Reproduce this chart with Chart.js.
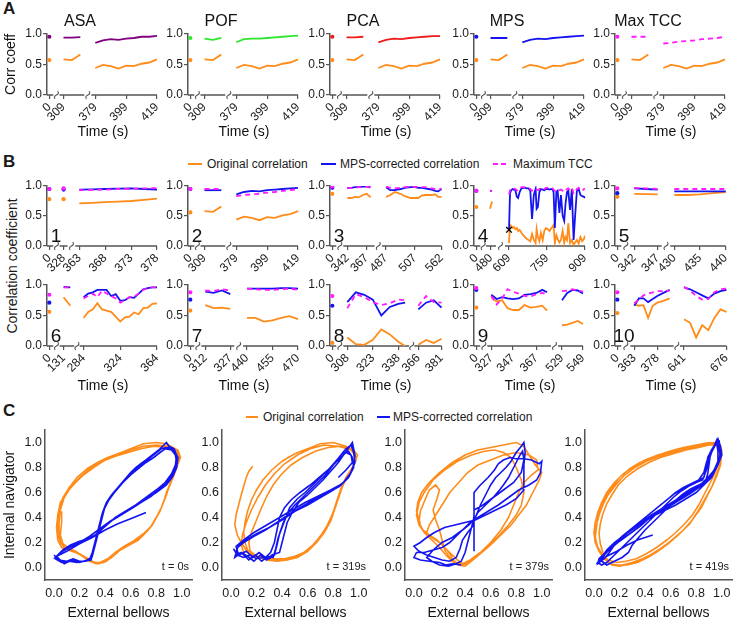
<!DOCTYPE html>
<html>
<head>
<meta charset="utf-8">
<script src="https://cdn.jsdelivr.net/npm/chart.js@4.4.1/dist/chart.umd.min.js"></script>
<style>
  html, body { margin: 0; padding: 0; background: #fff; }
  #fig { position: relative; width: 735px; height: 623px; overflow: hidden;
         font-family: "Liberation Sans", Arial, sans-serif; color: #1a1a1a; }
  #fig canvas { position: absolute; }
  .lbl { position: absolute; white-space: nowrap; font-size: 12px; line-height: 14px; }
  .letter { position: absolute; font-weight: bold; font-size: 17px; line-height: 18px; }
  .key { position: absolute; height: 2px; }
</style>
</head>
<body>
<div id="fig">
  <div class="letter" style="left:3px;top:0px">A</div>
  <div class="letter" style="left:3px;top:153px">B</div>
  <div class="letter" style="left:3px;top:402px">C</div>

  <!-- legend B -->
  <div class="key" style="left:188px;top:163px;width:14px;background:#ff8c1a"></div>
  <div class="lbl" style="left:207px;top:157px">Original correlation</div>
  <div class="key" style="left:321px;top:163px;width:15px;background:#1414f0"></div>
  <div class="lbl" style="left:340px;top:157px">MPS-corrected correlation</div>
  <div class="key" style="left:493px;top:163px;width:15px;background:repeating-linear-gradient(90deg,#ff1aff 0 5px,transparent 5px 8px)"></div>
  <div class="lbl" style="left:513px;top:157px">Maximum TCC</div>

  <div class="lbl" style="left:-58px;top:258px;width:140px;text-align:center;font-size:14px;line-height:16px;transform:rotate(-90deg)">Correlation coefficient</div>

  <!-- legend C -->
  <div class="key" style="left:246px;top:416px;width:12px;background:#ff8c1a"></div>
  <div class="lbl" style="left:263px;top:410px">Original correlation</div>
  <div class="key" style="left:377px;top:416px;width:13px;background:#1414f0"></div>
  <div class="lbl" style="left:393px;top:410px">MPS-corrected correlation</div>
</div>
<script>
// --- DATA: panel A (same time base for all five methods) ---
const A_TIME = [[0], [309, 319, 329], [379, 384, 389, 394, 399, 404, 409, 414, 419]];
const A_TICKS = [0, 309, 379, 399, 419];
const A_ORIG = [[0.57], [0.58, 0.57, 0.66], [0.44, 0.49, 0.47, 0.43, 0.48, 0.47, 0.51, 0.53, 0.58]];
const A_ASA = [[0.95], [0.935, 0.935, 0.945], [0.85, 0.89, 0.91, 0.90, 0.92, 0.93, 0.95, 0.95, 0.965]];
const A_POF = [[0.93], [0.92, 0.90, 0.93], [0.86, 0.91, 0.92, 0.92, 0.93, 0.94, 0.95, 0.96, 0.97]];
const A_PCA = [[0.95], [0.94, 0.94, 0.95], [0.86, 0.90, 0.92, 0.91, 0.93, 0.94, 0.95, 0.96, 0.96]];
const A_MPS = [[0.95], [0.93, 0.93, 0.93], [0.86, 0.90, 0.92, 0.91, 0.93, 0.94, 0.95, 0.96, 0.97]];
const A_TCC = [[0.95], [0.95, 0.95, 0.95], [0.84, 0.85, 0.87, 0.88, 0.89, 0.91, 0.92, 0.93, 0.95]];

// --- DATA: panel B, ten subjects ---
const B1_TIME = [[0], [328], [363, 365.5, 368, 370.5, 373, 375.5, 378]];
const B1_TICKS = [0, 328, 363, 368, 373, 378];
const B1_ORIG = [[0.78], [0.78], [0.71, 0.72, 0.73, 0.74, 0.75, 0.77, 0.79]];
const B1_MPS = [[0.95], [0.94], [0.94, 0.945, 0.95, 0.955, 0.96, 0.95, 0.94]];
const B1_TCC = [[0.95], [0.96], [0.93, 0.935, 0.94, 0.95, 0.955, 0.96, 0.965]];

const B2_TIME = [[0], [309, 319, 329], [379, 384, 389, 394, 399, 404, 409, 414, 419]];
const B2_TICKS = [0, 309, 379, 399, 419];
const B2_ORIG = [[0.56], [0.58, 0.57, 0.66], [0.44, 0.49, 0.47, 0.43, 0.48, 0.47, 0.51, 0.53, 0.58]];
const B2_MPS = [[0.95], [0.93, 0.93, 0.93], [0.86, 0.90, 0.92, 0.91, 0.93, 0.94, 0.95, 0.96, 0.97]];
const B2_TCC = [[0.95], [0.95, 0.95, 0.95], [0.83, 0.85, 0.86, 0.87, 0.89, 0.90, 0.92, 0.93, 0.95]];

const B3_TIME = [[0], [342, 347, 352, 357, 362, 367, 372],
  [487, 490, 493, 497, 500, 504, 507, 514, 521, 528, 535, 542, 549, 555, 562]];
const B3_TICKS = [0, 342, 367, 487, 507, 562];
const B3_ORIG = [[0.87], [0.80, 0.80, 0.82, 0.81, 0.85, 0.87, 0.81],
  [0.82, 0.85, 0.90, 0.87, 0.83, 0.80, 0.80, 0.80, 0.84, 0.85, 0.85, 0.85, 0.86, 0.82, 0.82]];
const B3_MPS = [[0.97], [0.97, 0.97, 0.98, 0.98, 0.99, 0.99, 0.98],
  [0.98, 0.93, 0.93, 0.95, 0.97, 0.98, 0.98, 0.97, 0.97, 0.96, 0.95, 0.94, 0.92, 0.91, 0.95]];
const B3_TCC = [[0.99], [0.96, 0.97, 0.97, 0.98, 0.99, 0.99, 0.97],
  [0.99, 0.97, 0.96, 0.97, 0.98, 0.99, 0.98, 0.99, 0.98, 0.98, 0.97, 0.96, 0.95, 0.93, 0.96]];

const B4_TIME = [[0], [479, 481],
  [609, 613, 618, 623, 628, 634, 640, 645, 651, 658, 665, 672, 679, 686, 693, 700, 707, 714, 718, 723,
   729, 735, 742, 748, 755, 762, 769, 776, 781, 785, 790, 796, 801, 808, 814, 821, 827, 832, 838, 843,
   850, 857, 864, 870, 877, 884, 891, 898, 905, 909]];
const B4_TICKS = [0, 480, 609, 759, 909];
const B4_ORIG = [[0.65], [0.62, 0.74],
  [0.05, 0.35, 0.33, 0.30, 0.32, 0.28, 0.30, 0.25, 0.27, 0.22, 0.18, 0.15, 0.12, 0.10, 0.08, 0.20, 0.10, 0.05, 0.28, 0.15,
   0.08, 0.22, 0.10, 0.25, 0.30, 0.28, 0.25, 0.30, 0.32, 0.35, 0.05, 0.18, 0.12, 0.06, 0.10, 0.25, 0.05, 0.15, 0.10, 0.38,
   0.05, 0.10, 0.02, 0.06, 0.10, 0.04, 0.15, 0.08, 0.12, 0.17]];
const B4_MPS = [[0.92], [0.92, 0.92],
  [0.27, 0.88, 0.93, 0.95, 0.94, 0.93, 0.82, 0.80, 0.90, 0.96, 0.97, 0.97, 0.96, 0.96, 0.92, 0.45, 0.85, 0.95, 0.62, 0.65,
   0.90, 0.95, 0.94, 0.93, 0.95, 0.95, 0.94, 0.95, 0.94, 0.90, 0.30, 0.90, 0.92, 0.55, 0.85, 0.50, 0.42, 0.70, 0.90, 0.92,
   0.60, 0.95, 0.10, 0.50, 0.92, 0.95, 0.85, 0.83, 0.82, 0.80]];
const B4_TCC = [[0.92], [0.93, 0.91],
  [0.86, 0.93, 0.95, 0.97, 0.96, 0.95, 0.93, 0.92, 0.95, 0.98, 0.98, 0.98, 0.97, 0.97, 0.95, 0.92, 0.93, 0.96, 0.94, 0.93,
   0.95, 0.97, 0.96, 0.95, 0.97, 0.97, 0.96, 0.97, 0.96, 0.94, 0.92, 0.94, 0.95, 0.93, 0.94, 0.92, 0.90, 0.93, 0.95, 0.96,
   0.93, 0.97, 0.88, 0.90, 0.95, 0.97, 0.93, 0.92, 0.95, 0.96]];
const B4_MARK = [[609, 0.27]];

const B5_TIME = [[0], [342, 344.5, 347], [430, 432.5, 435, 437.5, 440]];
const B5_TICKS = [0, 342, 347, 430, 435, 440];
const B5_ORIG = [[0.82], [0.87, 0.865, 0.86], [0.85, 0.85, 0.86, 0.88, 0.90]];
const B5_MPS = [[0.88], [0.96, 0.95, 0.94], [0.91, 0.91, 0.91, 0.91, 0.91]];
const B5_TCC = [[0.96], [0.97, 0.96, 0.95], [0.95, 0.95, 0.95, 0.95, 0.95]];

const B6_TIME = [[0], [131, 134],
  [284, 289, 294, 299, 304, 309, 314, 319, 324, 329, 334, 339, 344, 349, 354, 359, 364]];
const B6_TICKS = [0, 131, 284, 324, 364];
const B6_ORIG = [[0.56], [0.80, 0.66],
  [0.46, 0.56, 0.60, 0.70, 0.60, 0.58, 0.56, 0.48, 0.40, 0.47, 0.48, 0.55, 0.52, 0.62, 0.63, 0.69, 0.70]];
const B6_MPS = [[0.71], [0.97, 0.96],
  [0.80, 0.86, 0.88, 0.92, 0.92, 0.92, 0.82, 0.85, 0.74, 0.75, 0.80, 0.79, 0.86, 0.93, 0.95, 0.96, 0.96]];
const B6_TCC = [[0.84], [0.96, 0.96],
  [0.78, 0.82, 0.86, 0.80, 0.91, 0.86, 0.82, 0.78, 0.71, 0.75, 0.80, 0.81, 0.86, 0.92, 0.95, 0.96, 0.96]];

const B7_TIME = [[0], [312, 317, 322, 327], [440, 445, 450, 455, 460, 465, 470]];
const B7_TICKS = [0, 312, 327, 440, 455, 470];
const B7_ORIG = [[0.58], [0.67, 0.62, 0.63, 0.61], [0.46, 0.46, 0.40, 0.42, 0.46, 0.49, 0.44]];
const B7_MPS = [[0.76], [0.89, 0.87, 0.91, 0.85], [0.94, 0.94, 0.94, 0.94, 0.95, 0.95, 0.94]];
const B7_TCC = [[0.88], [0.91, 0.90, 0.93, 0.91], [0.94, 0.93, 0.92, 0.92, 0.93, 0.94, 0.92]];

const B8_TIME = [[0], [308, 313, 318, 323, 328, 333, 338, 342], [366, 371, 376, 381]];
const B8_TICKS = [0, 308, 323, 338, 366, 381];
const B8_ORIG = [[0.05], [0.14, 0.03, 0.02, 0.10, 0.27, 0.19, 0.07, 0.00], [0.02, 0.10, 0.05, 0.12]];
const B8_MPS = [[0.66], [0.72, 0.88, 0.84, 0.76, 0.50, 0.64, 0.69, 0.71], [0.60, 0.71, 0.75, 0.63]];
const B8_TCC = [[0.82], [0.62, 0.85, 0.80, 0.72, 0.67, 0.70, 0.76, 0.75], [0.66, 0.82, 0.72, 0.71]];

const B9_TIME = [[0], [327, 332, 337, 342, 347, 352, 357, 362, 367, 372, 376], [529, 534, 539, 544, 549]];
const B9_TICKS = [0, 327, 347, 367, 529, 549];
const B9_ORIG = [[0.63], [0.80, 0.73, 0.75, 0.62, 0.59, 0.59, 0.67, 0.63, 0.64, 0.66, 0.58], [0.34, 0.35, 0.38, 0.41, 0.36]];
const B9_MPS = [[0.92], [0.84, 0.77, 0.80, 0.78, 0.77, 0.78, 0.84, 0.85, 0.87, 0.92, 0.88], [0.75, 0.87, 0.92, 0.91, 0.86]];
const B9_TCC = [[0.95], [0.82, 0.68, 0.78, 0.93, 0.89, 0.86, 0.82, 0.81, 0.85, 0.87, 0.85], [0.90, 0.91, 0.93, 0.91, 0.89]];

const B10_TIME = [[0], [363, 366, 369, 372, 375, 378, 382, 386], [641, 646, 651, 656, 661, 666, 671, 676]];
const B10_TICKS = [0, 363, 378, 641, 676];
const B10_ORIG = [[0.54], [0.68, 0.66, 0.67, 0.46, 0.66, 0.71, 0.74, 0.78], [0.44, 0.38, 0.14, 0.34, 0.26, 0.46, 0.60, 0.56]];
const B10_MPS = [[0.76], [0.66, 0.78, 0.78, 0.72, 0.77, 0.82, 0.87, 0.92], [0.96, 0.93, 0.88, 0.83, 0.78, 0.86, 0.90, 0.92]];
const B10_TCC = [[0.88], [0.70, 0.76, 0.83, 0.86, 0.88, 0.90, 0.90, 0.91], [0.97, 0.91, 0.82, 0.76, 0.77, 0.88, 0.93, 0.94]];

// --- DATA: panel C, [external bellows, internal navigator] ---
const C_TICKS = [0, 0.2, 0.4, 0.6, 0.8, 1.0];
const C_LABELS = ['t = 0s', 't = 319s', 't = 379s', 't = 419s'];

const C1_ORIG = [[0.06,0.45],[0.06,0.36],[0.05,0.26],[0.07,0.19],[0.12,0.15],[0.17,0.13],[0.21,0.1],[0.25,0.07],[0.3,0.04],[0.36,0.04],[0.42,0.07],[0.48,0.12],[0.55,0.17],[0.62,0.21],[0.7,0.27],[0.76,0.33],[0.8,0.4],[0.84,0.48],[0.87,0.56],[0.9,0.64],[0.94,0.74],[0.97,0.83],[0.98,0.9],[0.95,0.95],[0.88,0.99],[0.8,1.0],[0.7,0.99],[0.6,0.95],[0.5,0.91],[0.42,0.88],[0.34,0.84],[0.26,0.79],[0.18,0.72],[0.12,0.64],[0.07,0.56],[0.04,0.47],[0.03,0.37],[0.03,0.28],[0.05,0.2],[0.09,0.15],[0.14,0.13],[0.2,0.11],[0.25,0.08],[0.3,0.05],[0.35,0.03],[0.41,0.05],[0.47,0.1],[0.53,0.15],[0.6,0.19],[0.67,0.24],[0.73,0.29],[0.78,0.36],[0.83,0.45],[0.86,0.53],[0.88,0.6],[0.92,0.7],[0.96,0.8],[0.99,0.88],[0.97,0.94],[0.9,0.97],[0.8,0.98],[0.7,0.97],[0.6,0.94],[0.5,0.9],[0.4,0.86],[0.31,0.8],[0.23,0.74],[0.16,0.67],[0.1,0.6],[0.05,0.52],[0.03,0.42],[0.02,0.32],[0.03,0.22],[0.06,0.16],[0.11,0.14],[0.17,0.12],[0.23,0.09],[0.28,0.05],[0.33,0.03],[0.39,0.04],[0.45,0.08],[0.52,0.14],[0.59,0.18],[0.66,0.22],[0.72,0.28],[0.77,0.34],[0.81,0.42],[0.85,0.5],[0.88,0.58],[0.91,0.68],[0.95,0.78],[0.98,0.86],[0.96,0.93],[0.89,0.96],[0.78,0.97],[0.68,0.95],[0.58,0.92],[0.48,0.89],[0.38,0.85],[0.28,0.79],[0.2,0.72],[0.13,0.64],[0.08,0.56],[0.05,0.46],[0.04,0.36],[0.04,0.26],[0.07,0.19],[0.12,0.15]];
const C1_MPS = [[0.0,0.1],[0.04,0.06],[0.1,0.05],[0.15,0.07],[0.2,0.05],[0.25,0.05],[0.28,0.07],[0.3,0.12],[0.32,0.2],[0.34,0.28],[0.36,0.36],[0.38,0.44],[0.41,0.52],[0.45,0.58],[0.5,0.64],[0.55,0.7],[0.6,0.76],[0.64,0.8],[0.68,0.83],[0.72,0.86],[0.77,0.9],[0.82,0.94],[0.86,0.98],[0.88,1.0],[0.9,0.97],[0.94,0.95],[0.96,0.9],[0.95,0.82],[0.92,0.75],[0.87,0.68],[0.8,0.62],[0.72,0.56],[0.64,0.5],[0.56,0.45],[0.48,0.4],[0.4,0.33],[0.34,0.27],[0.27,0.23],[0.2,0.21],[0.13,0.18],[0.07,0.14],[0.03,0.1],[0.01,0.07],[0.06,0.04],[0.12,0.05],[0.18,0.04],[0.24,0.05],[0.29,0.06],[0.31,0.13],[0.33,0.22],[0.35,0.3],[0.37,0.38],[0.39,0.46],[0.43,0.54],[0.48,0.61],[0.53,0.67],[0.58,0.73],[0.63,0.78],[0.69,0.82],[0.74,0.87],[0.79,0.91],[0.84,0.95],[0.88,0.96],[0.93,0.95],[0.97,0.88],[0.96,0.8],[0.93,0.73],[0.88,0.66],[0.8,0.6],[0.71,0.54],[0.62,0.48],[0.54,0.43],[0.46,0.38],[0.38,0.31],[0.31,0.25],[0.23,0.22],[0.16,0.19],[0.09,0.15],[0.04,0.11],[0.02,0.09],[0.08,0.03],[0.14,0.06],[0.2,0.04],[0.26,0.06],[0.3,0.09],[0.32,0.17],[0.34,0.25],[0.36,0.33],[0.38,0.41],[0.4,0.49],[0.44,0.56],[0.49,0.62],[0.54,0.68],[0.6,0.74],[0.66,0.79],[0.72,0.84],[0.78,0.88],[0.83,0.92],[0.87,0.95],[0.92,0.94],[0.95,0.9],[0.96,0.84],[0.94,0.77],[0.9,0.7],[0.84,0.64],[0.76,0.57],[0.68,0.52],[0.6,0.47],[0.52,0.42],[0.44,0.37],[0.36,0.31],[0.28,0.25],[0.2,0.2],[0.12,0.16],[0.05,0.12],[0.02,0.09],[0.1,0.13],[0.2,0.19],[0.3,0.24],[0.4,0.3],[0.5,0.35],[0.6,0.39],[0.72,0.44]];

const C2_ORIG = [[0.17,0.81],[0.14,0.77],[0.12,0.72],[0.1,0.65],[0.08,0.58],[0.06,0.5],[0.04,0.42],[0.03,0.34],[0.05,0.26],[0.08,0.2],[0.12,0.14],[0.16,0.1],[0.22,0.08],[0.3,0.07],[0.38,0.06],[0.46,0.07],[0.54,0.1],[0.6,0.14],[0.66,0.2],[0.72,0.28],[0.77,0.36],[0.8,0.44],[0.83,0.54],[0.86,0.63],[0.9,0.72],[0.95,0.8],[0.98,0.86],[0.96,0.92],[0.9,0.97],[0.8,1.0],[0.7,0.99],[0.6,0.95],[0.5,0.91],[0.4,0.85],[0.32,0.78],[0.25,0.7],[0.2,0.62],[0.16,0.54],[0.13,0.45],[0.11,0.36],[0.1,0.28],[0.11,0.2],[0.13,0.14],[0.18,0.1],[0.25,0.08],[0.33,0.07],[0.42,0.07],[0.5,0.09],[0.57,0.12],[0.64,0.18],[0.7,0.25],[0.75,0.33],[0.79,0.42],[0.82,0.5],[0.85,0.6],[0.88,0.68],[0.93,0.76],[0.97,0.84],[0.99,0.9],[0.95,0.95],[0.86,0.97],[0.76,0.96],[0.66,0.93],[0.56,0.88],[0.47,0.82],[0.39,0.74],[0.33,0.66],[0.28,0.57],[0.24,0.48],[0.2,0.38],[0.16,0.28],[0.14,0.2],[0.15,0.13],[0.2,0.09],[0.28,0.06],[0.36,0.05],[0.44,0.06],[0.52,0.08],[0.6,0.13],[0.67,0.2],[0.73,0.28],[0.78,0.37],[0.81,0.46],[0.84,0.55],[0.87,0.64],[0.91,0.73],[0.96,0.81],[0.98,0.88],[0.94,0.94],[0.84,0.97],[0.73,0.98],[0.62,0.95],[0.52,0.9],[0.42,0.83],[0.34,0.75],[0.27,0.66],[0.21,0.56],[0.16,0.46],[0.12,0.36],[0.09,0.26],[0.08,0.18],[0.1,0.12]];
const C2_MPS = [[0.02,0.15],[0.05,0.1],[0.1,0.08],[0.15,0.1],[0.2,0.07],[0.25,0.08],[0.3,0.07],[0.34,0.1],[0.36,0.18],[0.38,0.27],[0.41,0.36],[0.45,0.44],[0.5,0.5],[0.56,0.56],[0.62,0.62],[0.68,0.68],[0.74,0.74],[0.8,0.82],[0.86,0.9],[0.9,0.95],[0.94,0.98],[0.96,0.92],[0.97,0.84],[0.94,0.76],[0.88,0.68],[0.8,0.62],[0.7,0.56],[0.6,0.5],[0.5,0.45],[0.4,0.38],[0.3,0.32],[0.2,0.27],[0.12,0.22],[0.06,0.18],[0.04,0.12],[0.09,0.11],[0.14,0.06],[0.19,0.1],[0.24,0.05],[0.29,0.09],[0.33,0.08],[0.35,0.15],[0.37,0.24],[0.4,0.32],[0.43,0.4],[0.46,0.48],[0.52,0.55],[0.58,0.6],[0.64,0.66],[0.7,0.72],[0.76,0.78],[0.82,0.85],[0.87,0.91],[0.92,0.93],[0.95,0.88],[0.96,0.8],[0.92,0.72],[0.85,0.65],[0.76,0.6],[0.66,0.55],[0.56,0.49],[0.46,0.43],[0.36,0.36],[0.27,0.3],[0.18,0.25],[0.1,0.2],[0.05,0.16],[0.03,0.08],[0.08,0.12],[0.13,0.09],[0.18,0.05],[0.23,0.1],[0.28,0.06],[0.32,0.1],[0.38,0.12],[0.4,0.2],[0.42,0.28],[0.44,0.36],[0.48,0.44],[0.53,0.52],[0.6,0.58],[0.66,0.64],[0.72,0.7],[0.78,0.77],[0.84,0.84],[0.88,0.9],[0.93,0.97],[0.95,1.0],[0.97,0.9],[0.96,0.82],[0.93,0.74],[0.87,0.67],[0.78,0.62],[0.68,0.57],[0.58,0.52],[0.48,0.46],[0.38,0.4],[0.28,0.34],[0.18,0.28],[0.1,0.22],[0.04,0.17],[0.06,0.1],[0.12,0.13],[0.17,0.08],[0.22,0.12],[0.27,0.08],[0.31,0.12],[0.34,0.2],[0.36,0.3],[0.38,0.4],[0.42,0.48],[0.47,0.54],[0.54,0.6],[0.62,0.66],[0.7,0.73],[0.78,0.8],[0.85,0.87],[0.9,0.92],[0.94,0.9],[0.95,0.84],[0.9,0.78],[0.84,0.72]];

const C3_ORIG = [[0.05,0.35],[0.02,0.45],[0.03,0.52],[0.06,0.6],[0.12,0.68],[0.2,0.76],[0.3,0.84],[0.4,0.9],[0.5,0.94],[0.6,0.96],[0.7,0.98],[0.8,1.0],[0.86,0.97],[0.9,0.9],[0.95,0.82],[1.0,0.76],[0.98,0.7],[0.93,0.6],[0.88,0.5],[0.82,0.42],[0.76,0.34],[0.68,0.26],[0.6,0.18],[0.52,0.11],[0.45,0.05],[0.4,0.01],[0.35,0.02],[0.3,0.05],[0.25,0.1],[0.2,0.16],[0.14,0.22],[0.08,0.28],[0.04,0.34],[0.02,0.42],[0.04,0.52],[0.08,0.6],[0.15,0.7],[0.24,0.78],[0.34,0.85],[0.45,0.9],[0.55,0.93],[0.63,0.94],[0.7,0.92],[0.76,0.88],[0.8,0.8],[0.84,0.7],[0.86,0.6],[0.84,0.5],[0.8,0.42],[0.74,0.34],[0.66,0.25],[0.58,0.17],[0.5,0.1],[0.43,0.04],[0.38,0.02],[0.33,0.04],[0.28,0.08],[0.24,0.14],[0.22,0.22],[0.2,0.3],[0.17,0.38],[0.15,0.46],[0.18,0.55],[0.2,0.62],[0.17,0.66],[0.12,0.62],[0.09,0.55],[0.05,0.45],[0.04,0.36],[0.07,0.3],[0.12,0.26],[0.18,0.22],[0.24,0.16],[0.3,0.1],[0.34,0.06],[0.38,0.03],[0.44,0.06],[0.52,0.12],[0.6,0.2],[0.68,0.3],[0.74,0.4],[0.78,0.5],[0.82,0.6],[0.86,0.68],[0.92,0.74],[0.97,0.78],[0.96,0.86],[0.9,0.9],[0.8,0.92],[0.7,0.9],[0.6,0.86],[0.5,0.82],[0.42,0.76],[0.35,0.68],[0.28,0.6],[0.22,0.5],[0.17,0.42],[0.12,0.34],[0.1,0.28],[0.14,0.24],[0.2,0.2],[0.26,0.14],[0.3,0.08]];
const C3_MPS = [[0.37,0.02],[0.3,0.03],[0.25,0.02],[0.2,0.04],[0.12,0.05],[0.05,0.06],[0.0,0.08],[0.02,0.12],[0.08,0.12],[0.15,0.14],[0.22,0.16],[0.28,0.2],[0.33,0.25],[0.38,0.3],[0.43,0.34],[0.48,0.4],[0.52,0.5],[0.56,0.58],[0.6,0.66],[0.64,0.72],[0.68,0.76],[0.72,0.8],[0.76,0.85],[0.8,0.92],[0.84,0.97],[0.86,1.0],[0.87,0.92],[0.86,0.82],[0.86,0.72],[0.86,0.62],[0.8,0.55],[0.72,0.5],[0.64,0.46],[0.56,0.42],[0.48,0.38],[0.4,0.36],[0.32,0.34],[0.24,0.32],[0.16,0.28],[0.1,0.24],[0.05,0.2],[0.0,0.17],[0.04,0.13],[0.1,0.1],[0.16,0.08],[0.22,0.06],[0.28,0.05],[0.33,0.08],[0.36,0.15],[0.38,0.22],[0.42,0.28],[0.46,0.33],[0.47,0.42],[0.47,0.5],[0.47,0.6],[0.52,0.66],[0.58,0.72],[0.63,0.78],[0.66,0.83],[0.7,0.86],[0.75,0.88],[0.8,0.87],[0.86,0.87],[0.92,0.86],[0.98,0.83],[1.0,0.85],[0.99,0.76],[0.96,0.7],[0.9,0.66],[0.82,0.62],[0.74,0.56],[0.66,0.5],[0.58,0.45],[0.5,0.4],[0.44,0.36],[0.38,0.3],[0.3,0.24],[0.22,0.2],[0.15,0.14],[0.1,0.08],[0.14,0.05],[0.2,0.02],[0.27,0.01],[0.33,0.03],[0.37,0.05],[0.4,0.12],[0.42,0.2],[0.44,0.28],[0.46,0.36],[0.5,0.44],[0.56,0.5],[0.62,0.56],[0.67,0.62],[0.7,0.66],[0.74,0.72],[0.77,0.78],[0.8,0.84],[0.83,0.9],[0.85,0.93],[0.86,0.86],[0.84,0.76],[0.78,0.68],[0.7,0.62],[0.62,0.56],[0.54,0.5],[0.47,0.46],[0.47,0.34],[0.47,0.22],[0.47,0.13]];

const C4_ORIG = [[0.1,0.05],[0.06,0.1],[0.03,0.16],[0.01,0.24],[0.02,0.32],[0.03,0.4],[0.05,0.48],[0.09,0.56],[0.14,0.64],[0.2,0.72],[0.28,0.79],[0.36,0.84],[0.46,0.88],[0.56,0.92],[0.66,0.95],[0.76,0.97],[0.86,0.99],[0.94,1.0],[0.99,0.97],[1.0,0.9],[0.98,0.8],[0.95,0.72],[0.92,0.64],[0.88,0.56],[0.84,0.48],[0.79,0.41],[0.73,0.33],[0.66,0.26],[0.58,0.19],[0.5,0.13],[0.42,0.08],[0.34,0.04],[0.26,0.02],[0.18,0.02],[0.13,0.03],[0.08,0.07],[0.04,0.13],[0.01,0.2],[0.0,0.28],[0.01,0.36],[0.03,0.44],[0.06,0.52],[0.1,0.6],[0.16,0.68],[0.23,0.75],[0.31,0.81],[0.4,0.86],[0.5,0.9],[0.6,0.93],[0.7,0.96],[0.8,0.98],[0.9,1.0],[0.97,0.99],[1.0,0.94],[0.99,0.84],[0.96,0.75],[0.93,0.66],[0.89,0.58],[0.85,0.5],[0.8,0.43],[0.75,0.35],[0.68,0.28],[0.6,0.21],[0.52,0.15],[0.44,0.1],[0.36,0.06],[0.28,0.03],[0.2,0.01],[0.14,0.02],[0.1,0.06],[0.07,0.12],[0.05,0.19],[0.04,0.27],[0.05,0.35],[0.07,0.43],[0.1,0.51],[0.14,0.58],[0.19,0.66],[0.26,0.73],[0.34,0.79],[0.43,0.84],[0.52,0.88],[0.62,0.91],[0.72,0.94],[0.82,0.96],[0.9,0.98],[0.96,0.98],[0.98,0.92],[0.97,0.83],[0.94,0.74],[0.9,0.66],[0.86,0.58],[0.82,0.5],[0.77,0.42],[0.71,0.35],[0.64,0.28],[0.57,0.22],[0.49,0.16],[0.41,0.11],[0.33,0.07],[0.25,0.05],[0.18,0.04],[0.11,0.06],[0.06,0.11],[0.02,0.18],[0.01,0.26],[0.02,0.34],[0.04,0.42],[0.07,0.5],[0.11,0.58],[0.17,0.66],[0.24,0.74],[0.32,0.8],[0.41,0.85],[0.51,0.89],[0.61,0.92],[0.71,0.95],[0.81,0.97],[0.91,0.99],[0.98,0.98],[1.0,0.92],[0.99,0.82],[0.96,0.73],[0.92,0.64],[0.87,0.55],[0.82,0.46],[0.77,0.38],[0.7,0.3],[0.62,0.23],[0.54,0.16],[0.46,0.11],[0.38,0.07],[0.3,0.04],[0.22,0.02]];
const C4_MPS = [[0.02,0.03],[0.05,0.06],[0.08,0.1],[0.12,0.15],[0.17,0.2],[0.22,0.25],[0.28,0.3],[0.34,0.35],[0.4,0.4],[0.46,0.45],[0.52,0.5],[0.58,0.55],[0.64,0.6],[0.7,0.64],[0.76,0.67],[0.82,0.7],[0.86,0.76],[0.88,0.84],[0.9,0.9],[0.93,0.95],[0.96,1.02],[0.98,0.95],[0.99,0.88],[0.96,0.8],[0.92,0.72],[0.86,0.66],[0.8,0.6],[0.72,0.55],[0.64,0.5],[0.56,0.46],[0.48,0.42],[0.4,0.38],[0.32,0.32],[0.24,0.26],[0.16,0.2],[0.1,0.14],[0.06,0.08],[0.03,0.04],[0.06,0.02],[0.1,0.04],[0.14,0.08],[0.2,0.14],[0.26,0.2],[0.32,0.26],[0.38,0.32],[0.44,0.38],[0.5,0.44],[0.56,0.5],[0.62,0.56],[0.68,0.61],[0.74,0.65],[0.8,0.68],[0.85,0.7],[0.88,0.78],[0.9,0.86],[0.92,0.92],[0.95,0.98],[0.97,1.03],[0.99,0.97],[1.0,0.9],[0.97,0.82],[0.93,0.75],[0.88,0.69],[0.82,0.64],[0.75,0.59],[0.67,0.54],[0.59,0.49],[0.51,0.44],[0.43,0.39],[0.35,0.34],[0.28,0.29],[0.21,0.23],[0.14,0.17],[0.09,0.11],[0.05,0.06],[0.1,0.02],[0.16,0.05],[0.22,0.08],[0.27,0.12],[0.3,0.18],[0.35,0.24],[0.4,0.3],[0.46,0.36],[0.52,0.42],[0.58,0.48],[0.64,0.54],[0.7,0.59],[0.76,0.63],[0.82,0.66],[0.87,0.68],[0.89,0.75],[0.9,0.82],[0.91,0.9],[0.94,0.96],[0.96,1.0],[0.97,0.93],[0.97,0.85],[0.94,0.78],[0.9,0.72],[0.84,0.67],[0.77,0.62],[0.69,0.57],[0.61,0.52],[0.53,0.47],[0.45,0.42],[0.37,0.36],[0.29,0.3],[0.22,0.24],[0.15,0.18],[0.09,0.12],[0.04,0.07],[0.03,0.03],[0.08,0.07],[0.12,0.12],[0.16,0.18],[0.21,0.24],[0.27,0.29],[0.33,0.34],[0.39,0.39],[0.45,0.44],[0.51,0.49],[0.57,0.54],[0.63,0.59],[0.69,0.63],[0.75,0.66],[0.81,0.69],[0.86,0.72],[0.88,0.8],[0.89,0.88],[0.92,0.94],[0.95,0.99],[0.98,1.01],[0.99,0.93],[0.98,0.86],[0.95,0.79],[0.9,0.73],[0.84,0.67],[0.76,0.61],[0.68,0.56],[0.6,0.51],[0.52,0.46],[0.44,0.4],[0.36,0.33],[0.28,0.27],[0.2,0.21],[0.13,0.15],[0.07,0.09],[0.04,0.05],[0.1,0.09],[0.18,0.13],[0.26,0.18],[0.34,0.22],[0.4,0.24],[0.46,0.26]];

// --- LAYOUT: broken x axes, knots [time, px from y axis, ...] per segment ---
const A_XSEG = [[0, 2.3], [309, 16.5, 329, 33.3], [379, 48.3, 419, 110]];
const B_XSEG = [
  [[0, 2.3], [328, 16.6], [363, 32.3, 378, 110]],
  A_XSEG,
  [[0, 2.3], [342, 17.3, 367, 36.7, 372, 40.6], [487, 56, 507, 85, 562, 111.5]],
  [[0, 2.3], [479, 16, 481, 18], [609, 35, 909, 111]],
  [[0, 2.3], [342, 19.3, 347, 42.7], [430, 59.3, 440, 110.7]],
  [[0, 2.3], [131, 16.6, 134, 23.3], [284, 36.6, 364, 110]],
  [[0, 2.3], [312, 17.3, 327, 42.3], [440, 59, 470, 110]],
  [[0, 2.3], [308, 17.3, 338, 68.3, 342, 75.1], [366, 88.3, 381, 111.5]],
  [[0, 2.3], [327, 17.3, 347, 39, 367, 62.3, 376, 73], [529, 88, 549, 109]],
  [[0, 2.3], [363, 19.3, 378, 42.3, 386, 54.6], [641, 69, 676, 111.5]]
];
const COLS = [47, 188, 330, 474, 615];
const C_COLS = [45, 222, 405, 585];

// --- STYLE ---
const ORANGE = '#ff8c1a';
const BLUE = '#1414f0';
const MAGENTA = '#ff1aff';
const AXIS = '#555555';
const FONT = '"Liberation Sans", Arial, sans-serif';

Chart.defaults.font.family = FONT;
Chart.defaults.font.size = 12;
Chart.defaults.color = '#1a1a1a';

// linear scale whose pixel positions follow piecewise knots, giving a broken axis
class BrokenScale extends Chart.LinearScale {
  buildTicks() {
    return this.options.tickValues.map(v => ({ value: v }));
  }
  getPixelForValue(v) {
    const k = [];
    this.options.segs.forEach(s => { for (let j = 0; j < s.length; j += 2) k.push([s[j], s[j + 1]]); });
    if (!(v > k[0][0])) return this.left + k[0][1];
    for (let i = 1; i < k.length; i++) {
      if (v <= k[i][0]) {
        const [t0, p0] = k[i - 1];
        const [t1, p1] = k[i];
        const f = t1 === t0 ? 0 : (v - t0) / (t1 - t0);
        return this.left + p0 + f * (p1 - p0);
      }
    }
    return this.left + k[k.length - 1][1];
  }
  getValueForPixel() { return 0; }
}
BrokenScale.id = 'broken';
BrokenScale.defaults = {};
Chart.register(BrokenScale);

const fig = document.getElementById('fig');

const addCanvas = (left, top, w, h) => {
  const c = document.createElement('canvas');
  c.width = w;
  c.height = h;
  c.style.left = left + 'px';
  c.style.top = top + 'px';
  fig.appendChild(c);
  return c;
};

// x axis pieces, break marks and the subject number
const brokenAxisPlugin = (segs, num) => ({
  id: 'brokenAxis',
  beforeDatasetsDraw(chart) {
    const { ctx, chartArea: a } = chart;
    const y = a.bottom;
    const pieces = segs.map((s, i) => [
      i === 0 ? 0 : s[1] - 4,
      i === segs.length - 1 ? s[s.length - 1] : s[s.length - 1] + 4
    ]);
    ctx.save();
    ctx.strokeStyle = AXIS;
    ctx.lineWidth = 1.5;
    pieces.forEach(([p0, p1]) => {
      ctx.beginPath();
      ctx.moveTo(a.left + p0, y);
      ctx.lineTo(a.left + p1, y);
      ctx.stroke();
    });
    ctx.lineWidth = 1.1;
    for (let i = 0; i < pieces.length - 1; i++) {
      const x = a.left + (pieces[i][1] + pieces[i + 1][0]) / 2;
      ctx.beginPath();
      ctx.moveTo(x - 1.3, y + 4);
      ctx.quadraticCurveTo(x - 3.2, y + 1.5, x, y);
      ctx.quadraticCurveTo(x + 3.2, y - 1.5, x + 1.3, y - 4);
      ctx.stroke();
    }
    if (num) {
      ctx.fillStyle = '#111';
      ctx.font = '19px ' + FONT;
      ctx.textAlign = 'center';
      ctx.textBaseline = 'alphabetic';
      ctx.fillText(num, a.left + 9, a.bottom - 4);
    }
    ctx.restore();
  }
});

const cornerLabelPlugin = (text) => ({
  id: 'cornerLabel',
  afterDatasetsDraw(chart) {
    const { ctx, chartArea: a } = chart;
    ctx.save();
    ctx.fillStyle = '#222';
    ctx.font = '11px ' + FONT;
    ctx.textAlign = 'right';
    ctx.textBaseline = 'alphabetic';
    ctx.fillText(text, a.right - 3, a.bottom - 10);
    ctx.restore();
  }
});

/**
 * Small correlation-vs-time panel with a broken time axis.
 */
const smallPanel = (p) => {
  const canvas = addCanvas(p.col - 46, p.top, 162, p.height);
  const datasets = [];
  p.series.forEach(s => {
    p.time.forEach((ts, k) => {
      const single = ts.length === 1;
      datasets.push({
        data: ts.map((t, j) => ({ x: t, y: s.data[k][j] })),
        borderColor: s.color,
        backgroundColor: s.color,
        borderWidth: 1.8,
        borderDash: s.dash || [],
        showLine: !single,
        pointRadius: single ? 2.1 : 0,
        pointBorderWidth: 0,
        order: s.order
      });
    });
  });
  if (p.mark) {
    datasets.push({
      data: p.mark.map(([x, y]) => ({ x, y })),
      showLine: false,
      pointStyle: 'crossRot',
      pointRadius: 4,
      borderColor: '#000',
      borderWidth: 1.4,
      order: -1
    });
  }

  new Chart(canvas, {
    type: 'line',
    data: { datasets },
    options: {
      responsive: false,
      animation: false,
      events: [],
      layout: { padding: { top: p.padTop, right: 4, left: 0, bottom: 0 } },
      plugins: {
        legend: { display: false },
        tooltip: { enabled: false },
        title: p.title
          ? { display: true, text: p.title, color: '#111', font: { size: 16, weight: 'normal' }, padding: { top: 12, bottom: 2.5 } }
          : { display: false }
      },
      scales: {
        x: {
          type: 'broken',
          segs: p.segs,
          tickValues: p.ticks,
          border: { display: false },
          grid: { drawOnChartArea: false, drawTicks: true, tickLength: 4, color: AXIS, lineWidth: 1.2 },
          ticks: { autoSkip: false, minRotation: 45, maxRotation: 45, padding: 1, color: '#1a1a1a', callback: v => String(v) },
          title: p.xtitle
            ? { display: true, text: 'Time (s)', color: '#111', font: { size: 14 }, padding: { top: 0, bottom: 4 } }
            : { display: false },
          afterFit: s => { s.height = p.xH; s.paddingLeft = 0; s.paddingRight = 0; }
        },
        y: {
          min: 0,
          max: 1,
          border: { color: AXIS, width: 1.5 },
          grid: { drawOnChartArea: false, drawTicks: true, tickLength: 4, color: AXIS, lineWidth: 1.2 },
          ticks: { stepSize: 0.5, padding: 1, color: '#1a1a1a', callback: v => v.toFixed(1) },
          title: p.ytitle
            ? { display: true, text: p.ytitle, color: '#111', font: { size: 14 }, padding: { top: 2, bottom: 0 } }
            : { display: false },
          afterFit: s => { s.width = 46; s.paddingTop = 0; s.paddingBottom = 0; }
        }
      }
    },
    plugins: [brokenAxisPlugin(p.segs, p.num)]
  });
};

/**
 * Internal navigator vs external bellows loop panel.
 */
const loopPanel = (i, orig, mps) => {
  const canvas = addCanvas(C_COLS[i] - 45, 422, 196, 203);
  const toXY = arr => arr.map(([x, y]) => ({ x, y }));
  const ticksFromList = s => { s.ticks = C_TICKS.map(v => ({ value: v })); };

  new Chart(canvas, {
    type: 'line',
    data: {
      datasets: [
        { data: toXY(mps), borderColor: BLUE, borderWidth: 1.6, pointRadius: 0, order: 0 },
        { data: toXY(orig), borderColor: ORANGE, borderWidth: 1.6, pointRadius: 0, order: 1 }
      ]
    },
    options: {
      responsive: false,
      animation: false,
      events: [],
      layout: { padding: { top: 8, right: 4, left: 0, bottom: 0 } },
      plugins: { legend: { display: false }, tooltip: { enabled: false } },
      scales: {
        x: {
          type: 'linear',
          min: -0.07,
          max: 1.08,
          border: { color: AXIS, width: 1.5 },
          grid: { display: false, drawTicks: false },
          afterBuildTicks: ticksFromList,
          ticks: { padding: 6, maxRotation: 0, color: '#1a1a1a', font: { size: 12.5 }, callback: v => v.toFixed(1) },
          title: { display: true, text: 'External bellows', color: '#111', font: { size: 14 }, padding: { top: 0, bottom: 3 } },
          afterFit: s => { s.height = 45; s.paddingLeft = 0; s.paddingRight = 0; }
        },
        y: {
          min: -0.1,
          max: 1.1,
          border: { color: AXIS, width: 1.5 },
          grid: { display: false, drawTicks: false },
          afterBuildTicks: ticksFromList,
          ticks: { padding: 3, color: '#1a1a1a', font: { size: 12.5 }, callback: v => v.toFixed(1) },
          title: i === 0
            ? { display: true, text: 'Internal navigator', color: '#111', font: { size: 14 }, padding: { top: 2, bottom: 0 } }
            : { display: false },
          afterFit: s => { s.width = 45; s.paddingTop = 0; s.paddingBottom = 0; }
        }
      }
    },
    plugins: [cornerLabelPlugin(C_LABELS[i])]
  });
};

// --- Panel A ---
const A_METHODS = [
  { title: 'ASA', data: A_ASA, color: '#800080' },
  { title: 'POF', data: A_POF, color: '#2ee62e' },
  { title: 'PCA', data: A_PCA, color: '#ee1c1c' },
  { title: 'MPS', data: A_MPS, color: BLUE },
  { title: 'Max TCC', data: A_TCC, color: MAGENTA, dash: [5, 4] }
];
A_METHODS.forEach((m, i) => {
  smallPanel({
    col: COLS[i], top: 0, height: 145, padTop: 0, xH: 50,
    title: m.title, ytitle: i === 0 ? 'Corr coeff' : null, xtitle: true,
    time: A_TIME, ticks: A_TICKS, segs: A_XSEG,
    series: [
      { data: m.data, color: m.color, dash: m.dash, order: 1 },
      { data: A_ORIG, color: ORANGE, order: 2 }
    ]
  });
});

// --- Panel B ---
const B_PANELS = [
  [B1_TIME, B1_TICKS, B1_ORIG, B1_MPS, B1_TCC],
  [B2_TIME, B2_TICKS, B2_ORIG, B2_MPS, B2_TCC],
  [B3_TIME, B3_TICKS, B3_ORIG, B3_MPS, B3_TCC],
  [B4_TIME, B4_TICKS, B4_ORIG, B4_MPS, B4_TCC],
  [B5_TIME, B5_TICKS, B5_ORIG, B5_MPS, B5_TCC],
  [B6_TIME, B6_TICKS, B6_ORIG, B6_MPS, B6_TCC],
  [B7_TIME, B7_TICKS, B7_ORIG, B7_MPS, B7_TCC],
  [B8_TIME, B8_TICKS, B8_ORIG, B8_MPS, B8_TCC],
  [B9_TIME, B9_TICKS, B9_ORIG, B9_MPS, B9_TCC],
  [B10_TIME, B10_TICKS, B10_ORIG, B10_MPS, B10_TCC]
];
B_PANELS.forEach(([time, ticks, orig, mps, tcc], i) => {
  const row2 = i >= 5;
  smallPanel({
    col: COLS[i % 5],
    top: row2 ? 275 : 176,
    height: row2 ? 124 : 100,
    padTop: 10,
    xH: row2 ? 53 : 30,
    xtitle: row2,
    num: String(i + 1),
    time, ticks, segs: B_XSEG[i],
    mark: i === 3 ? B4_MARK : null,
    series: [
      { data: tcc, color: MAGENTA, dash: [5, 4], order: 1 },
      { data: mps, color: BLUE, order: 2 },
      { data: orig, color: ORANGE, order: 3 }
    ]
  });
});

// --- Panel C ---
loopPanel(0, C1_ORIG, C1_MPS);
loopPanel(1, C2_ORIG, C2_MPS);
loopPanel(2, C3_ORIG, C3_MPS);
loopPanel(3, C4_ORIG, C4_MPS);
</script>
</body>
</html>
